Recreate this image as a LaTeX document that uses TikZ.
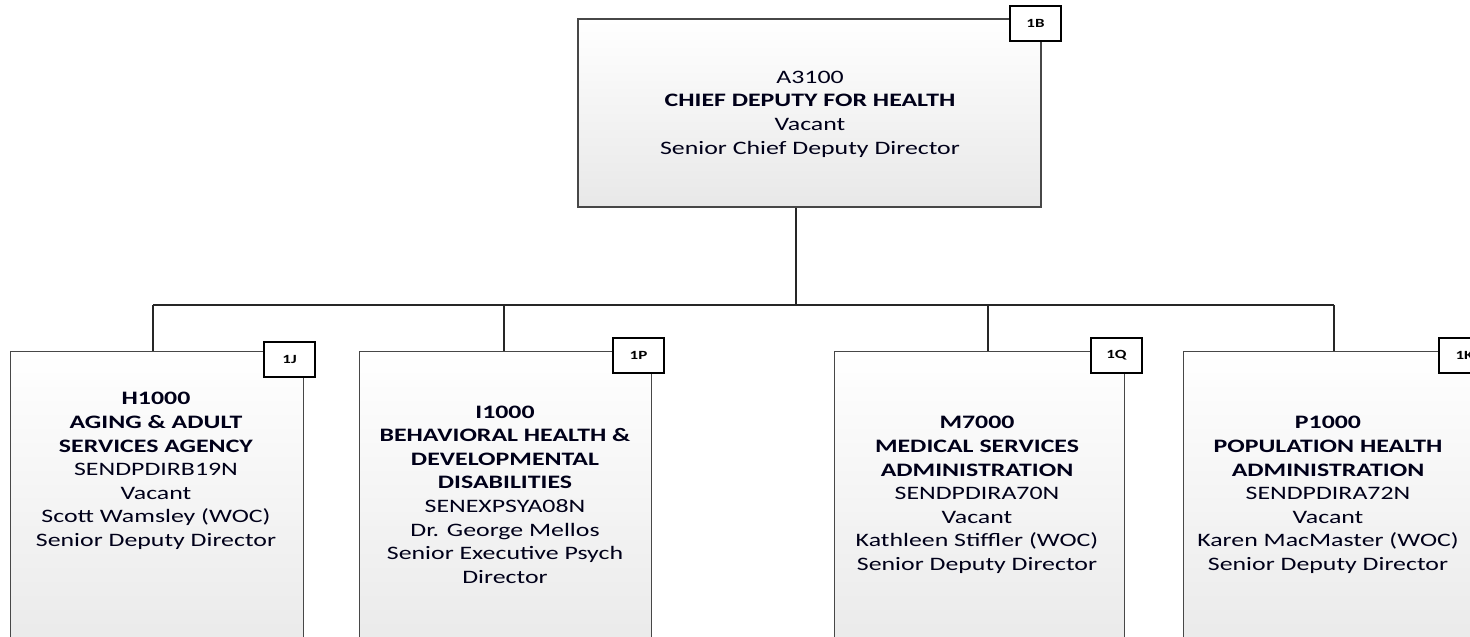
\documentclass[tikz,border=0pt]{standalone}
\usepackage{fontspec}
\setmainfont{Carlito}[FakeStretch=1.36]
\begin{document}
\begin{tikzpicture}[x=1pt,y=-1pt,
  orgbox/.style={draw=black!72, line width=1.2pt, top color=white, bottom color=black!9, inner sep=0pt},
  tagbox/.style={draw=black, line width=1.6pt, fill=white, inner sep=0pt, minimum width=51pt, minimum height=35pt, font=\fontsize{12.5}{14}\selectfont\bfseries},
  orgtext/.style={align=center, text=black!90!blue, font=\fontsize{19}{23.6}\selectfont, inner sep=0pt},
  link/.style={draw=black!85, line width=1.5pt}]
\clip (0,0) rectangle (1470,637);
\fill[white] (0,0) rectangle (1470,637);

% top box
\node[orgbox, minimum width=463pt, minimum height=188pt] (top) at (809.5,113) {};
\node[tagbox] (ttop) at (1035.5,23.5) {1B};
\node[orgtext] (xtop) at (810,114) {A3100\\\textbf{CHIEF DEPUTY FOR HEALTH}\\Vacant\\Senior Chief Deputy Director};

% lower boxes
\node[orgbox, minimum width=293pt, minimum height=320pt, anchor=north west] (b1) at (10,351) {};
\node[orgbox, minimum width=292pt, minimum height=320pt, anchor=north west] (b2) at (359,351) {};
\node[orgbox, minimum width=290pt, minimum height=320pt, anchor=north west] (b3) at (834,351) {};
\node[orgbox, minimum width=292pt, minimum height=320pt, anchor=north west] (b4) at (1183,351) {};

\node[tagbox] (t1) at (289.5,359.5) {1J};
\node[tagbox] (t2) at (638.5,355.5) {1P};
\node[tagbox] (t3) at (1116.5,355.5) {1Q};
\node[tagbox] (t4) at (1464.5,355.5) {1K};

\node[orgtext] (x1) at (156,471) {\textbf{H1000}\\\textbf{AGING \& ADULT}\\\textbf{SERVICES AGENCY}\\SENDPDIRB19N\\Vacant\\Scott Wamsley (WOC)\\Senior Deputy Director};
\node[orgtext] (x2) at (505,494.5) {\textbf{I1000}\\\textbf{BEHAVIORAL HEALTH \&}\\\textbf{DEVELOPMENTAL}\\\textbf{DISABILITIES}\\SENEXPSYA08N\\Dr. George Mellos\\Senior Executive Psych\\Director};
\node[orgtext] (x3) at (977,495) {\textbf{M7000}\\\textbf{MEDICAL SERVICES}\\\textbf{ADMINISTRATION}\\SENDPDIRA70N\\Vacant\\Kathleen Stiffler (WOC)\\Senior Deputy Director};
\node[orgtext] (x4) at (1328,495) {\textbf{P1000}\\\textbf{POPULATION HEALTH}\\\textbf{ADMINISTRATION}\\SENDPDIRA72N\\Vacant\\Karen MacMaster (WOC)\\Senior Deputy Director};

% connectors
\coordinate (bus) at (796,305);
\coordinate (d1) at (153,305);
\coordinate (d2) at (504,305);
\coordinate (d3) at (988,305);
\coordinate (d4) at (1334,305);
\draw[link] (top.south -| bus) -- (bus);
\draw[link] (d1) -- (d4);
\draw[link] (d1) -- (d1 |- b1.north);
\draw[link] (d2) -- (d2 |- b2.north);
\draw[link] (d3) -- (d3 |- b3.north);
\draw[link] (d4) -- (d4 |- b4.north);
\end{tikzpicture}
\end{document}
